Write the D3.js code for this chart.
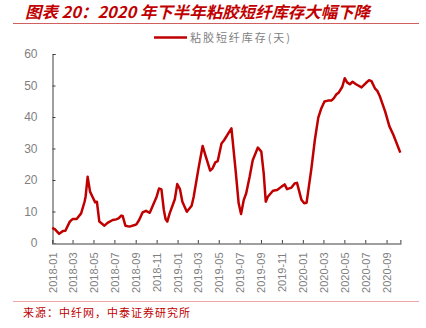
<!DOCTYPE html>
<html><head><meta charset="utf-8">
<script src="https://cdn.jsdelivr.net/npm/d3@7/dist/d3.min.js"></script>
<style>body{margin:0;background:#fff} svg{display:block}</style>
</head><body><svg id="c" width="426" height="328"></svg>
<script>
const titleText = "图表 20：2020 年下半年粘胶短纤库存大幅下降";
const seriesName = "粘胶短纤库存(天)";
const sourceText = "来源：中纤网，中泰证券研究所";

const dates = ["2018-01-01","2018-01-09","2018-01-21","2018-02-01","2018-02-08","2018-02-21","2018-03-01","2018-03-13","2018-03-26","2018-04-05","2018-04-08","2018-04-14","2018-04-21","2018-04-28","2018-05-06","2018-05-11","2018-05-18","2018-06-02","2018-06-11","2018-06-26","2018-07-06","2018-07-13","2018-07-21","2018-07-25","2018-08-02","2018-08-14","2018-08-29","2018-09-03","2018-09-11","2018-09-21","2018-10-01","2018-10-12","2018-11-01","2018-11-08","2018-11-15","2018-11-22","2018-11-27","2018-12-02","2018-12-09","2018-12-24","2018-12-31","2019-01-08","2019-01-15","2019-01-28","2019-02-11","2019-02-17","2019-03-03","2019-03-15","2019-03-23","2019-04-06","2019-04-13","2019-04-21","2019-04-28","2019-05-09","2019-05-17","2019-05-27","2019-06-07","2019-06-19","2019-06-28","2019-07-05","2019-07-13","2019-07-20","2019-07-30","2019-08-08","2019-08-23","2019-09-02","2019-09-09","2019-09-15","2019-09-21","2019-10-06","2019-10-18","2019-10-31","2019-11-09","2019-11-16","2019-11-29","2019-12-08","2019-12-15","2019-12-28","2020-01-05","2020-01-12","2020-01-26","2020-02-05","2020-02-15","2020-02-24","2020-03-04","2020-03-14","2020-03-24","2020-03-31","2020-04-08","2020-04-15","2020-04-25","2020-05-02","2020-05-09","2020-05-17","2020-05-25","2020-06-04","2020-06-20","2020-07-02","2020-07-12","2020-07-19","2020-07-29","2020-08-05","2020-08-13","2020-08-28","2020-09-09","2020-09-21","2020-10-11"];
const values = [4.8,4.3,2.9,3.8,3.9,6.8,7.6,7.6,9.4,13.1,14.7,21.0,16.3,14.7,12.9,13.1,6.8,5.5,6.4,7.3,7.5,7.8,8.7,8.6,5.5,5.2,5.7,5.9,7.3,9.7,10.2,9.6,14.7,17.3,17.0,10.5,7.6,6.8,9.4,13.9,18.7,17.1,13.1,9.9,11.8,14.7,23.7,30.8,27.9,23.0,23.7,25.6,26.0,31.6,32.7,34.5,36.4,23.2,12.6,9.2,13.7,15.8,21.0,26.3,30.3,29.0,22.1,13.1,14.7,16.6,16.8,17.9,18.6,17.1,17.6,18.9,19.1,13.7,12.6,12.8,23.7,32.7,39.8,42.8,44.9,45.2,45.2,45.9,47.2,47.8,49.6,52.3,51.0,50.4,51.2,50.4,49.4,50.7,51.7,51.4,49.1,48.3,46.4,41.7,37.1,34.3,28.7];
const yTicks = [0,10,20,30,40,50,60];
const xTickLabels = ["2018-01","2018-03","2018-05","2018-07","2018-09","2018-11","2019-01","2019-03","2019-05","2019-07","2019-09","2019-11","2020-01","2020-03","2020-05","2020-07","2020-09"];
const xDomain = ["2018-01-01","2020-10-11"];

const parse = d3.timeParse("%Y-%m-%d");
const parseM = d3.timeParse("%Y-%m");
const data = dates.map((d,i)=>({date:parse(d), v:values[i]}));

const svg = d3.select("#c");
const cjk = "'Noto Sans CJK SC','Microsoft YaHei',sans-serif";
const red = "#C00000";

const x = d3.scaleTime().domain(xDomain.map(parse)).range([52.3, 400.3]);
const y = d3.scaleLinear().domain([0,60]).range([243, 54]);

// title
svg.append("text").attr("x",25).attr("y",18)
  .attr("font-family",cjk).attr("font-size",16).attr("font-weight","bold").attr("font-style","italic")
  .attr("fill",red).attr("textLength",345).attr("lengthAdjust","spacingAndGlyphs").text(titleText);
svg.append("line").attr("x1",13).attr("x2",419).attr("y1",23.5).attr("y2",23.5)
  .attr("stroke","#D06060").attr("stroke-width",1);

// legend
svg.append("line").attr("x1",154).attr("x2",187).attr("y1",37.5).attr("y2",37.5)
  .attr("stroke",red).attr("stroke-width",2.5);
svg.append("text").attr("x",190).attr("y",41.5)
  .attr("font-family",cjk).attr("font-size",11).attr("fill","#7f7f7f")
  .attr("textLength",100).attr("lengthAdjust","spacing").text(seriesName);

// y axis
const yAxis = d3.axisLeft(y).tickValues(yTicks).tickSize(-3).tickPadding(15).tickFormat(d3.format("d"));
const gy = svg.append("g").attr("transform","translate(52.5,0)").call(yAxis);
gy.select(".domain").attr("stroke","#404040");
gy.selectAll(".tick line").attr("stroke","#404040");
gy.selectAll(".tick text").attr("font-family","'Liberation Sans',Arial,sans-serif").attr("font-size",12).attr("fill","#7f7f7f");

// x axis
const xAxis = d3.axisBottom(x).tickValues(xTickLabels.map(parseM)).tickSize(-3.5).tickFormat(d3.timeFormat("%Y-%m"));
const gx = svg.append("g").attr("transform","translate(0,243.5)").call(xAxis);
gx.select(".domain").attr("stroke","#808080").attr("stroke-width",1.5);
gx.selectAll(".tick line").attr("stroke","#404040");
gx.selectAll(".tick text").attr("font-family","'Liberation Sans',Arial,sans-serif").attr("font-size",11).attr("fill","#7f7f7f")
  .attr("transform","rotate(-90)").attr("text-anchor","end").attr("x",-9).attr("y",0).attr("dy","0.35em");

// line
svg.append("path").datum(data)
  .attr("fill","none").attr("stroke",red).attr("stroke-width",2.5).attr("stroke-linejoin","round")
  .attr("d", d3.line().x(d=>x(d.date)).y(d=>y(d.v)));

// footer
svg.append("line").attr("x1",13).attr("x2",419).attr("y1",301.5).attr("y2",301.5)
  .attr("stroke","#EFA8A8").attr("stroke-width",1);
svg.append("text").attr("x",23).attr("y",317)
  .attr("font-family",cjk).attr("font-size",11).attr("fill",red)
  .attr("textLength",167).attr("lengthAdjust","spacing").text(sourceText);
</script></body></html>
